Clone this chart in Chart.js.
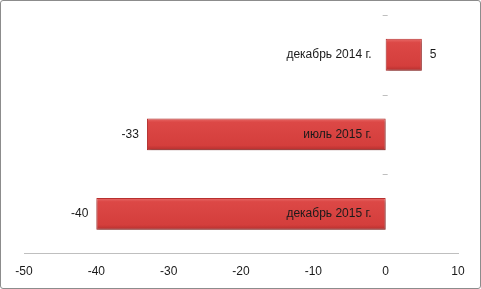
<!DOCTYPE html>
<html><head><meta charset="utf-8">
<script src="https://cdn.jsdelivr.net/npm/chart.js@4/dist/chart.umd.min.js"></script>
<style>
html,body{margin:0;padding:0;background:#fff;}
#wrap{position:relative;width:481px;height:289px;}
#border{position:absolute;left:0;top:0;width:479px;height:287px;border:1px solid #8c8c8c;border-radius:3px;pointer-events:none;}
</style></head>
<body><div id="wrap"><canvas id="c" width="481" height="289"></canvas><div id="border"></div></div>
<script>
const categories = ['декабрь 2014 г.', 'июль 2015 г.', 'декабрь 2015 г.'];
const values = [5, -33, -40];
const xTicks = [-50, -40, -30, -20, -10, 0, 10];

const FONT = 'Liberation Sans, Arial, sans-serif';

const labelPlugin = {
  id: 'labels',
  beforeDatasetsDraw(chart) {
    const ctx = chart.ctx, xs = chart.scales.x, ys = chart.scales.y;
    const x0 = xs.getPixelForValue(0);
    ctx.save();
    ctx.strokeStyle = '#bfbfbf';
    ctx.lineWidth = 1;
    for (let i = 0; i < categories.length; i++) {
      const y = Math.round(ys.getPixelForValue(i - 0.5)) + 0.5;
      ctx.beginPath(); ctx.moveTo(x0 - 3, y); ctx.lineTo(x0 + 2, y); ctx.stroke();
    }
    ctx.restore();
  },
  afterDatasetsDraw(chart) {
    const ctx = chart.ctx, xs = chart.scales.x;
    const meta = chart.getDatasetMeta(0);
    const x0 = xs.getPixelForValue(0);
    ctx.save();
    ctx.font = '12px ' + FONT;
    ctx.fillStyle = '#1a1a1a';
    ctx.textBaseline = 'middle';
    meta.data.forEach((bar, i) => {
      const y = bar.y;
      ctx.textAlign = 'right';
      ctx.fillText(categories[i], x0 - 14, y);
      const v = values[i];
      const xe = xs.getPixelForValue(v);
      if (v >= 0) { ctx.textAlign = 'left'; ctx.fillText(String(v), xe + 8, y); }
      else { ctx.textAlign = 'right'; ctx.fillText(String(v), xe - 8, y); }
    });
    ctx.restore();
  }
};

const shadowPlugin = {
  id: 'shadow',
  beforeDatasetDraw(chart) {
    const ctx = chart.ctx;
    ctx.save();
    ctx.shadowColor = 'rgba(0,0,0,0.35)';
    ctx.shadowBlur = 3;
    ctx.shadowOffsetX = 1;
    ctx.shadowOffsetY = 2;
  },
  afterDatasetDraw(chart) { chart.ctx.restore(); }
};

new Chart(document.getElementById('c'), {
  type: 'bar',
  data: {
    labels: categories,
    datasets: [{
      data: values,
      backgroundColor: (c) => {
        const ys = c.chart.scales.y;
        if (!ys || c.dataIndex === undefined) return '#d84040';
        const yc = ys.getPixelForValue(c.dataIndex);
        const h = ys.height / categories.length * 0.4;
        if (!isFinite(yc) || !isFinite(h) || h <= 0) return '#d84040';
        const g = c.chart.ctx.createLinearGradient(0, yc - h / 2, 0, yc + h / 2);
        g.addColorStop(0, '#e86a68');
        g.addColorStop(0.12, '#dc4846');
        g.addColorStop(0.85, '#d43e3c');
        g.addColorStop(1, '#b32f2e');
        return g;
      },
      borderColor: '#b8302f',
      borderWidth: 1,
      borderSkipped: false,
      categoryPercentage: 1,
      barPercentage: 0.4
    }]
  },
  options: {
    indexAxis: 'y',
    responsive: false,
    animation: false,
    layout: { padding: { left: 24, right: 23, top: 15, bottom: -1 } },
    plugins: { legend: { display: false }, tooltip: { enabled: false } },
    scales: {
      x: {
        min: -50, max: 10,
        afterBuildTicks: (s) => { s.ticks = xTicks.map(v => ({ value: v })); },
        grid: { display: false, drawTicks: false },
        border: { display: true, color: '#bfbfbf', width: 1 },
        ticks: { padding: 11, color: '#1a1a1a', font: { family: FONT, size: 12 } }
      },
      y: { display: false }
    }
  },
  plugins: [shadowPlugin, labelPlugin]
});
</script></body></html>
